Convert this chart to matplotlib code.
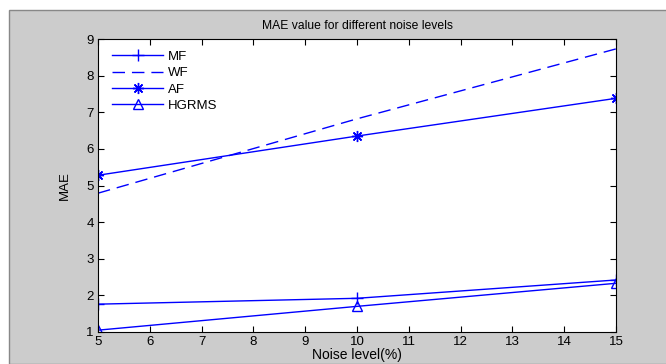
import matplotlib
matplotlib.use("Agg")
import matplotlib.pyplot as plt
from matplotlib.patches import Rectangle

plt.rcParams['font.family'] = ['Liberation Sans', 'DejaVu Sans']

noise = [5, 10, 15]
mf = [1.76, 1.92, 2.42]
wf = [4.79, 6.82, 8.73]
af = [5.28, 6.35, 7.38]
hgrms = [1.05, 1.70, 2.33]
xticks = list(range(5, 16))
yticks = list(range(1, 10))

W, H = 666, 364
fig = plt.figure(figsize=(W/100, H/100), dpi=100, facecolor='white')
fig.patches.append(Rectangle((9/W, 0), 1, (H-10)/H, transform=fig.transFigure,
                             facecolor='#cccccc', edgecolor='#888888', lw=1, zorder=-10))

ax = fig.add_axes([98/W, (H-332)/H, (616-98)/W, (332-39)/H])
ax.set_zorder(5)
ax.set_facecolor('white')
blue = '#0000ff'
ax.plot(noise, mf, color=blue, lw=1, marker='+', ms=9, mew=1, label='MF')
ax.plot(noise, wf, color=blue, lw=1, ls=(0, (9, 5)), label='WF')
ax.plot(noise, af, color=blue, lw=1, marker=(8, 2, 0), ms=8, mew=1, label='AF')
ax.plot(noise, hgrms, color=blue, lw=1, marker='^', ms=7, mfc='none', mew=1, label='HGRMS')

ax.set_xlim(5, 15)
ax.set_ylim(1, 9)
ax.set_xticks(xticks)
ax.set_yticks(yticks)
ax.tick_params(direction='in', top=True, right=True, labelsize=9.5, length=4, width=0.8, pad=3)
for s in ax.spines.values():
    s.set_linewidth(0.8)
ax.set_title('MAE value for different noise levels', fontsize=8.7, pad=7)
ax.set_xlabel('Noise level(%)', fontsize=10, labelpad=0)
ax.set_ylabel('MAE', fontsize=9.5, labelpad=11)

leg = ax.legend(loc='upper left', frameon=False, fontsize=9.5, handlelength=3.8,
                handletextpad=0.4, labelspacing=0.3, borderaxespad=0.5,
                bbox_to_anchor=(0.005, 1.0))
for t in leg.get_texts():
    t.set_color('black')

fig.savefig('out.png', dpi=100, facecolor=fig.get_facecolor())
